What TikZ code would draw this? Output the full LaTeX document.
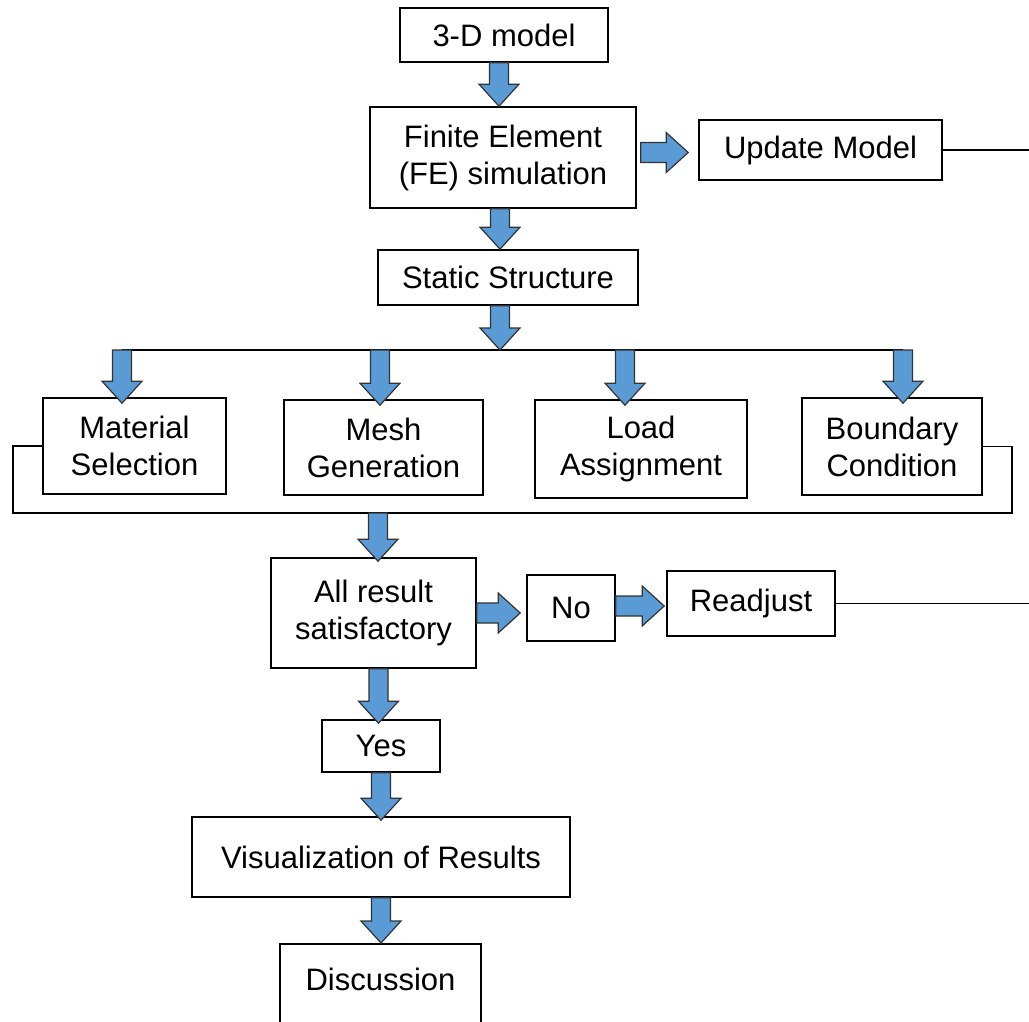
\documentclass[tikz,border=0pt]{standalone}
\usepackage{fontspec}
\setmainfont{Liberation Sans}
\usetikzlibrary{calc, positioning}

\definecolor{arrblue}{RGB}{91,155,213}

\tikzset{
  box/.style={draw, line width=0.8pt, align=center, inner sep=0pt,
    font=\fontsize{15.5}{18.5}\selectfont},
  arrbody/.style={fill=arrblue, draw=black!80, line width=0.6pt, line join=miter},
  downarr/.style={arrbody, to path={let \p1=(\tikztostart), \p2=(\tikztotarget) in
    (\x1-4.75pt,\y1) -- (\x1-4.75pt,\y2+11pt) -- (\x1-10pt,\y2+11pt) -- (\x1,\y2)
    -- (\x1+10pt,\y2+11pt) -- (\x1+4.75pt,\y2+11pt) -- (\x1+4.75pt,\y1) -- cycle}},
  rightarr/.style={arrbody, to path={let \p1=(\tikztostart), \p2=(\tikztotarget) in
    (\x1,\y1+5pt) -- (\x2-11pt,\y1+5pt) -- (\x2-11pt,\y1+10pt) -- (\x2,\y1)
    -- (\x2-11pt,\y1-10pt) -- (\x2-11pt,\y1-5pt) -- (\x1,\y1-5pt) -- cycle}},
  wire/.style={line width=0.7pt}
}

\begin{document}
\begin{tikzpicture}[x=0.5pt, y=-0.5pt]
    \path[use as bounding box, clip] (0,0) rectangle (1029,1022);

    % main column
    \node[box, minimum width=104pt, minimum height=27pt] (model) at (504,35) {3-D model};
    \node[box, minimum width=133pt, minimum height=50.5pt] (fesim) at (503,157.5) {Finite Element\\(FE) simulation};
    \node[box, minimum width=121.5pt, minimum height=30pt] (update) at (820.5,150) {Update Model};
    \node[box, minimum width=130pt, minimum height=27.5pt] (static) at (508,277.5) {Static Structure};

    % four tasks
    \node[box, minimum width=91.5pt, minimum height=48pt] (material) at (134.5,446) {Material\\Selection};
    \node[box, minimum width=99.5pt, minimum height=47.5pt] (mesh) at (383.5,447.5) {Mesh\\Generation};
    \node[box, minimum width=106pt, minimum height=49pt] (load) at (641,449) {Load\\Assignment};
    \node[box, minimum width=90pt, minimum height=48.5pt] (boundary) at (892,446.5) {Boundary\\Condition};

    % check and results
    \node[box, minimum width=102.5pt, minimum height=55pt] (allres) at (373.5,613) {All result\\satisfactory};
    \node[box, minimum width=44pt, minimum height=33pt] (no) at (571,608) {No};
    \node[box, minimum width=84pt, minimum height=32.5pt] (readjust) at (751,603.5) {Readjust};
    \node[box, minimum width=59pt, minimum height=26pt] (yes) at (381,746) {Yes};
    \node[box, minimum width=189pt, minimum height=40pt] (visual) at (381,857) {Visualization of Results};
    \node[box, minimum width=100.5pt, anchor=north, text height=23.5pt, text depth=32pt] (discuss) at (380.5,943) {Discussion};

    % bus and loop points
    \coordinate (edge) at (1029,0);
    \coordinate (busl) at (122,350);
    \coordinate (busr) at (903,350);
    \coordinate (b2) at (380,350);
    \coordinate (b3) at (625,350);
    \coordinate (loopl) at (13,513);
    \coordinate (loopr) at (1012,513);
    \coordinate (loopm) at (378,513);

    \draw[wire] (busl) -- (busr);
    \draw[wire] (material.west) -| (loopl) -- (loopr) |- (boundary.east);
    \draw[wire] (update.east) -- (update.east -| edge);
    \draw[wire] (readjust.east) -- (readjust.east -| edge);

    % block arrows
    \draw[downarr] ([xshift=-2.5pt]model.south) to (fesim.north);
    \draw[downarr] ([xshift=-1.5pt]fesim.south) to (static.north);
    \draw[downarr] ([xshift=-4pt]static.south) to (busl);
    \draw[downarr] (busl) to ([yshift=-3pt]material.north);
    \draw[downarr] (b2) to ([yshift=-3pt]mesh.north);
    \draw[downarr] (b3) to ([yshift=-3pt]load.north);
    \draw[downarr] (busr) to ([yshift=-3pt]boundary.north);
    \draw[downarr] (loopm) to ([yshift=-2pt]allres.north);
    \draw[downarr] ([xshift=2.5pt]allres.south) to ([yshift=-2pt]yes.north);
    \draw[downarr] (yes.south) to ([yshift=-2pt]visual.north);
    \draw[downarr] (visual.south) to (discuss.north);
    \draw[rightarr] ([xshift=2pt,yshift=2.5pt]fesim.east) to ([xshift=-5pt]update.west);
    \draw[rightarr] (allres.east) to ([xshift=-3pt]no.west);
    \draw[rightarr] ([yshift=1pt]no.east) to ([xshift=-1pt]readjust.west);
\end{tikzpicture}
\end{document}
